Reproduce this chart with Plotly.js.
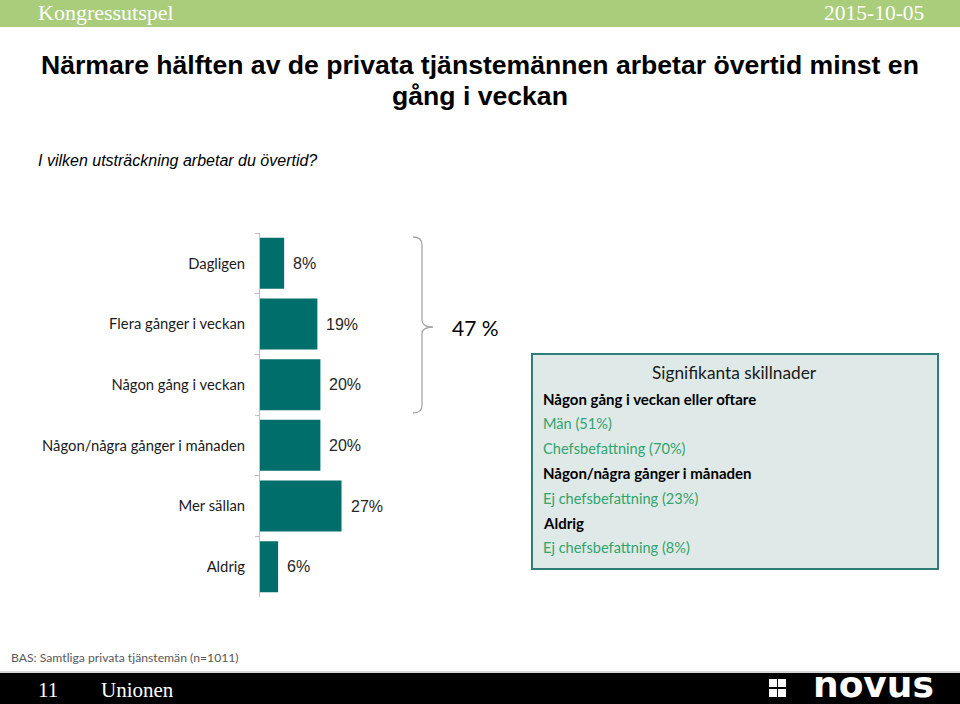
<!DOCTYPE html>
<html>
<head>
<meta charset="utf-8">
<script src="https://cdn.plot.ly/plotly-3.0.1.min.js"></script>
<style>html,body{margin:0;padding:0;background:#fff;}#chart{width:960px;height:704px;}</style>
</head>
<body>
<div id="chart"></div>
<script>
// ---- data ----
const categories = ["Dagligen", "Flera gånger i veckan", "Någon gång i veckan", "Någon/några gånger i månaden", "Mer sällan", "Aldrig"];
const values = [8, 19, 20, 20, 27, 6];
const valueLabels = ["8%", "19%", "20%", "20%", "27%", "6%"];
const bracketLabel = "47 %";
const boxTitle = "Signifikanta skillnader";
const boxLines = [
  {text: "Någon gång i veckan eller oftare", bold: true},
  {text: "Män (51%)", bold: false},
  {text: "Chefsbefattning (70%)", bold: false},
  {text: "Någon/några gånger i månaden", bold: true},
  {text: "Ej chefsbefattning (23%)", bold: false},
  {text: "Aldrig", bold: true},
  {text: "Ej chefsbefattning (8%)", bold: false}
];
const titleLines = ["Närmare hälften av de privata tjänstemännen arbetar övertid minst en", "gång i veckan"];
const subtitle = "I vilken utsträckning arbetar du övertid?";
const headerLeft = "Kongressutspel";
const headerRight = "2015-10-05";
const baseNote = "BAS: Samtliga privata tjänstemän (n=1011)";
const pageNo = "11";
const client = "Unionen";
const logoText = "novus";

// ---- layout geometry (pixels) ----
const W = 960, H = 704;
const L = 260, R = 20, T = 233, B = 107;
const PW = W - L - R, PH = H - T - B;
const pxPerUnit = 3.02;
const px = x => (x - L) / PW;
const py = y => (H - B - y) / PH;

const teal = "#006e6b";
const green = "#30a46c";
const calibri = "Lato, 'Open Sans', sans-serif";
const arial = "'Liberation Sans', Arial, sans-serif";
const serif = "'Liberation Serif', 'Times New Roman', serif";

const trace = {
  type: "bar",
  orientation: "h",
  y: categories,
  x: values,
  marker: {color: teal},
  hoverinfo: "skip",
  cliponaxis: false
};

const annotations = [];
categories.forEach((c, i) => {
  annotations.push({xref: "x", yref: "y", x: values[i], y: c, text: valueLabels[i], showarrow: false,
    xanchor: "left", yanchor: "middle", xshift: 7, font: {family: arial, size: 16, color: "#262626"}});
});
// titles
annotations.push({xref: "paper", yref: "paper", x: px(480), y: py(65), text: "<b>" + titleLines[0] + "</b>", showarrow: false,
  xanchor: "center", yanchor: "middle", font: {family: arial, size: 26.6, color: "#000"}});
annotations.push({xref: "paper", yref: "paper", x: px(480), y: py(96), text: "<b>" + titleLines[1] + "</b>", showarrow: false,
  xanchor: "center", yanchor: "middle", font: {family: arial, size: 26.6, color: "#000"}});
annotations.push({xref: "paper", yref: "paper", x: px(36), y: py(160), text: "<i>" + subtitle + "</i>", showarrow: false,
  xanchor: "left", yanchor: "middle", font: {family: arial, size: 16, color: "#000"}});
// header
annotations.push({xref: "paper", yref: "paper", x: px(36), y: py(13), text: headerLeft, showarrow: false,
  xanchor: "left", yanchor: "middle", font: {family: serif, size: 22, color: "#fff"}});
annotations.push({xref: "paper", yref: "paper", x: px(926), y: py(13), text: headerRight, showarrow: false,
  xanchor: "right", yanchor: "middle", font: {family: serif, size: 21.5, color: "#fff"}});
// bracket label
annotations.push({xref: "paper", yref: "paper", x: px(450), y: py(327), text: bracketLabel, showarrow: false,
  xanchor: "left", yanchor: "middle", font: {family: calibri, size: 21, color: "#000"}});
// box
annotations.push({xref: "paper", yref: "paper", x: px(734), y: py(372), text: boxTitle, showarrow: false,
  xanchor: "center", yanchor: "middle", font: {family: calibri, size: 17.3, color: "#1a1a1a"}});
boxLines.forEach((ln, i) => {
  annotations.push({xref: "paper", yref: "paper", x: px(541), y: py(399 + i * 24.8),
    text: ln.bold ? "<b>" + ln.text + "</b>" : ln.text, showarrow: false,
    xanchor: "left", yanchor: "middle",
    font: {family: calibri, size: ln.bold ? 15 : 14.6, color: ln.bold ? "#000" : green}});
});
// footer
annotations.push({xref: "paper", yref: "paper", x: px(9), y: py(657), text: baseNote, showarrow: false,
  xanchor: "left", yanchor: "middle", font: {family: calibri, size: 12.2, color: "#595959"}});
annotations.push({xref: "paper", yref: "paper", x: px(36), y: py(690), text: pageNo, showarrow: false,
  xanchor: "left", yanchor: "middle", font: {family: serif, size: 21, color: "#fff"}});
annotations.push({xref: "paper", yref: "paper", x: px(99), y: py(690), text: client, showarrow: false,
  xanchor: "left", yanchor: "middle", font: {family: serif, size: 21, color: "#fff"}});
annotations.push({xref: "paper", yref: "paper", x: px(936), y: py(684), text: logoText, showarrow: false,
  xanchor: "right", yanchor: "middle", font: {family: "'DejaVu Sans', sans-serif", size: 36, color: "#fff", weight: "bold"}});

const shapes = [];
function rectPx(x0, y0, x1, y1, fill, line, lw) {
  shapes.push({type: "rect", xref: "paper", yref: "paper", x0: px(x0), x1: px(x1), y0: py(y0), y1: py(y1),
    fillcolor: fill, line: {color: line || fill, width: lw === undefined ? 0 : lw}, layer: "below"});
}
// header bar
rectPx(0, 0, 960, 27, "#a9cd7b");
// footer
shapes.push({type: "line", xref: "paper", yref: "paper", x0: px(0), x1: px(960), y0: py(672), y1: py(672), line: {color: "#b0b0b0", width: 1}});
rectPx(0, 673, 960, 704, "#000");
// logo squares
[[769, 679], [778, 679], [769, 689], [778, 689]].forEach(p => shapes.push({type: "rect", xref: "paper", yref: "paper",
  x0: px(p[0]), x1: px(p[0] + 8), y0: py(p[1]), y1: py(p[1] + 8), fillcolor: "#fff", line: {width: 0}}));
// box
rectPx(532, 354, 938, 569, "#dfe9e8", "#2f7c78", 2);
// bracket
function P(x, y) { return px(x).toFixed(5) + "," + py(y).toFixed(5); }
const bracketPath = "M" + P(413, 237) + " Q" + P(422, 237) + " " + P(422, 245) +
  " L" + P(422, 320) + " Q" + P(422, 327) + " " + P(433, 327) +
  " Q" + P(422, 327) + " " + P(422, 334) + " L" + P(422, 405) +
  " Q" + P(422, 413) + " " + P(413, 413);
shapes.push({type: "path", xref: "paper", yref: "paper", path: bracketPath, line: {color: "#a6a6a6", width: 1.3}});

const layout = {
  width: W, height: H,
  margin: {l: L, r: R, t: T, b: B, pad: 0},
  paper_bgcolor: "#fff", plot_bgcolor: "rgba(0,0,0,0)",
  showlegend: false,
  bargap: 0.16,
  xaxis: {range: [0, PW / pxPerUnit], visible: false, fixedrange: true},
  yaxis: {
    type: "category", autorange: "reversed", range: [5.5, -0.5],
    showline: true, linecolor: "#bfbfbf", linewidth: 1,
    ticks: "outside", tickson: "boundaries", ticklen: 4, tickcolor: "#bfbfbf",
    ticklabelstandoff: 11,
    showgrid: false, zeroline: false,
    tickfont: {family: calibri, size: 14.8, color: "#1a1a1a"}
  },
  annotations: annotations,
  shapes: shapes
};

Plotly.newPlot("chart", [trace], layout, {staticPlot: true, displayModeBar: false});
</script>
</body>
</html>
